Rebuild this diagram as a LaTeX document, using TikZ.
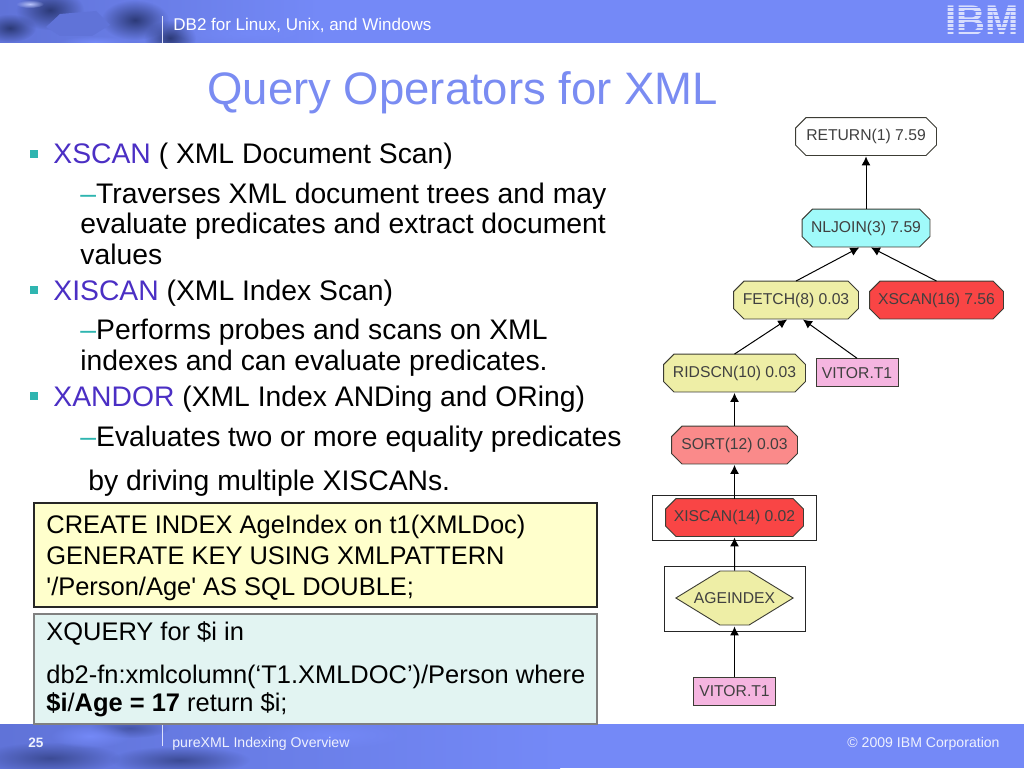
\documentclass[tikz,border=0pt]{standalone}
\usepackage{fontspec}
\setmainfont{Liberation Sans}
\newfontfamily\plainfont{Liberation Sans}
\usetikzlibrary{arrows.meta,shapes.symbols,fadings}
\definecolor{barblue}{HTML}{7489F7}
\definecolor{barmid}{HTML}{6073D8}
\definecolor{bardark}{HTML}{2C3A78}
\definecolor{titleblue}{HTML}{7A8CF2}
\definecolor{keyblue}{HTML}{4B2FC4}
\definecolor{tealmark}{HTML}{2FB5B0}
\definecolor{boxyellow}{HTML}{FFFFCC}
\definecolor{boxmint}{HTML}{E2F4F2}
\definecolor{opyellow}{HTML}{EEEEA6}
\definecolor{opred}{HTML}{F94545}
\definecolor{oppink}{HTML}{FA8A8A}
\definecolor{opcyan}{HTML}{A0FAFA}
\definecolor{tblpink}{HTML}{F5B5E0}
\definecolor{oppline}{HTML}{3C3C34}
\tikzfading[name=softspot,inner color=transparent!0,outer color=transparent!100]
% rectangle with cut corners
\makeatletter
\pgfdeclareshape{opbox}{
  \inheritsavedanchors[from=rectangle]
  \inheritanchorborder[from=rectangle]
  \inheritanchor[from=rectangle]{center}
  \inheritanchor[from=rectangle]{north}
  \inheritanchor[from=rectangle]{south}
  \inheritanchor[from=rectangle]{east}
  \inheritanchor[from=rectangle]{west}
  \backgroundpath{
    \southwest \pgf@xa=\pgf@x \pgf@ya=\pgf@y
    \northeast \pgf@xb=\pgf@x \pgf@yb=\pgf@y
    \pgfpathmoveto{\pgfpoint{\pgf@xa+10.5pt}{\pgf@ya}}
    \pgfpathlineto{\pgfpoint{\pgf@xb-10.5pt}{\pgf@ya}}
    \pgfpathlineto{\pgfpoint{\pgf@xb}{\pgf@ya+10.5pt}}
    \pgfpathlineto{\pgfpoint{\pgf@xb}{\pgf@yb-10.5pt}}
    \pgfpathlineto{\pgfpoint{\pgf@xb-10.5pt}{\pgf@yb}}
    \pgfpathlineto{\pgfpoint{\pgf@xa+10.5pt}{\pgf@yb}}
    \pgfpathlineto{\pgfpoint{\pgf@xa}{\pgf@yb-10.5pt}}
    \pgfpathlineto{\pgfpoint{\pgf@xa}{\pgf@ya+10.5pt}}
    \pgfpathclose
  }
}
\makeatother
\begin{document}
\begin{tikzpicture}[x=1pt,y=-1pt,->,>={Latex[length=9pt,width=9pt]},shorten >=1pt,thick,
    op node/.style={opbox,draw=oppline,line width=.9pt,inner sep=0pt,minimum height=37pt,
      text height=13pt,text depth=4.6pt,text=black!75,font=\fontsize{15.7}{17}\selectfont},
    tbl node/.style={rectangle,draw=oppline,line width=.9pt,fill=tblpink,inner sep=0pt,text=black!75,
      minimum width=82pt,minimum height=28pt,font=\fontsize{15.7}{17}\selectfont},
    frame node/.style={rectangle,draw=black!85,line width=.9pt,fill=white,inner sep=0pt},
    body text/.style={anchor=base west,inner sep=0pt,font=\fontsize{28.3}{32}\selectfont},
    box text/.style={anchor=base west,inner sep=0pt,font=\fontsize{25.45}{28}\selectfont},
    bar text/.style={anchor=base west,inner sep=0pt,text=white,font=\fontsize{17}{20}\selectfont},
    foot text/.style={anchor=base west,inner sep=0pt,text=white!88!barblue,font=\fontsize{14.1}{16}\selectfont},
    mark node/.style={rectangle,fill=tealmark,inner sep=0pt,minimum size=8pt},
    soft spot/.style={path fading=softspot,fill=#1}]
  \useasboundingbox (0,0) rectangle (1024,768);

  % header and footer bars
  \begin{scope}[-]
    \fill[barblue] (0,0) rectangle (1024,43);
    \shade[left color=barmid,right color=barblue] (0,0) rectangle (320,43);
    \begin{scope}
      \clip (0,0) rectangle (320,43);
      \path[soft spot=bardark] (50,10) ellipse (34 and 20);
      \path[soft spot=bardark] (135,20) ellipse (34 and 20);
      \path[soft spot=bardark] (170,38) ellipse (26 and 18);
      \path[soft spot=bardark] (10,28) ellipse (26 and 14);
      \fill[barmid] (46,27) -- (60,14) -- (96,11) -- (110,25) -- (92,36) -- (60,36) -- cycle;
      \path[soft spot=barblue!50!white] (30,4) ellipse (14 and 4);
      \path[soft spot=barblue] (95,42) ellipse (36 and 6);
      \path[soft spot=barblue] (255,33) ellipse (80 and 12);
    \end{scope}
    \fill[barblue] (0,724) rectangle (1024,768);
    \shade[left color=barmid,right color=barblue] (0,724) rectangle (560,768);
    \begin{scope}
      \clip (0,724) rectangle (560,768);
      \path[soft spot=bardark!70!barmid] (50,758) ellipse (70 and 16);
      \path[soft spot=bardark!70!barmid] (180,760) ellipse (70 and 14);
      \path[soft spot=bardark!50!barmid] (130,728) ellipse (40 and 10);
      \path[soft spot=barblue] (90,736) ellipse (40 and 12);
      \path[soft spot=barblue] (330,735) ellipse (80 and 14);
    \end{scope}
    \draw[white!75!barblue,line width=1pt,shorten >=0pt] (162,16) -- (162,43);
    \draw[white!75!barblue,line width=1pt,shorten >=0pt] (162,724) -- (162,746);
  \end{scope}
  \node[bar text] (barleft) at (173,31) {DB2 for Linux, Unix, and Windows};
  \node[foot text] (footname) at (172,747.5) {pureXML Indexing Overview};
  \node[foot text,font=\fontsize{13.6}{16}\selectfont\bfseries] (footpage) at (28,747.5) {25};
  \node[foot text,anchor=base east] (footcopy) at (1000,747) {© 2009 IBM Corporation};

  % logo
  \node[anchor=center,inner sep=0pt,text=white!72!barblue,xscale=.93,
    font=\fontsize{43}{43}\selectfont\bfseries] (logo) at (982.5,20.5) {IBM};
  \begin{scope}[-,shorten >=0pt]
    \foreach \ya in {7.7,11.6,15.5,19.4,23.3,27.2,31.1,35}
      \draw[barblue,line width=1.2pt] (940,\ya) -- (1023,\ya);
  \end{scope}

  % title and text
  \node[anchor=base west,inner sep=0pt,text=titleblue,font=\fontsize{45.5}{50}\selectfont] (title) at (207,104) {Query Operators for XML};
  \node[mark node] (mark1) at (34,154) {};
  \node[mark node] (mark2) at (34,290) {};
  \node[mark node] (mark3) at (34,396) {};
  \node[body text] (xscan) at (53,163.5) {\textcolor{keyblue}{XSCAN} ( XML Document Scan)};
  \node[body text] (xscan1) at (80,203) {\textcolor{tealmark}{–}Traverses XML document trees and may};
  \node[body text] (xscan2) at (80,233) {evaluate predicates and extract document};
  \node[body text] (xscan3) at (80,264) {values};
  \node[body text] (xiscan) at (53,300) {\textcolor{keyblue}{XISCAN} (XML Index Scan)};
  \node[body text] (xiscan1) at (80,339.5) {\textcolor{tealmark}{–}Performs probes and scans on XML};
  \node[body text] (xiscan2) at (80,370) {indexes and can evaluate predicates.};
  \node[body text] (xandor) at (53,406) {\textcolor{keyblue}{XANDOR} (XML Index ANDing and ORing)};
  \node[body text] (xandor1) at (80,446) {\textcolor{tealmark}{–}Evaluates two or more equality predicates};
  \node[body text] (xandor2) at (88,490.5) {by driving multiple XISCANs.};

  % boxes
  \node[rectangle,draw=black!85,line width=1.1pt,fill=boxyellow,minimum width=563pt,minimum height=104pt,inner sep=0pt] (createbox) at (315.5,555) {};
  \node[rectangle,draw=black!50,line width=1.1pt,fill=boxmint,minimum width=563pt,minimum height=110pt,inner sep=0pt] (querybox) at (315.5,669) {};
  \node[box text] (create1) at (46,533.5) {CREATE INDEX AgeIndex on t1(XMLDoc)};
  \node[box text] (create2) at (46,564) {GENERATE KEY USING XMLPATTERN};
  \node[box text] (create3) at (46,595) {{\plainfont '}/Person/Age{\plainfont '} AS SQL DOUBLE;};
  \node[box text] (query1) at (46,640.5) {XQUERY for \$i in};
  \node[box text] (query2) at (46,683.5) {db2-fn:xmlcolumn(‘T1.XMLDOC’)/Person where};
  \node[box text] (query3) at (46,711.5) {\textbf{\$i}/\textbf{Age = 17} return \$i;};

  % plan graph
  \node[frame node,minimum width=164pt,minimum height=45pt] (xiscanframe) at (734.5,517.5) {};
  \node[frame node,minimum width=141pt,minimum height=65pt] (ageframe) at (734.5,598.5) {};
  \node[op node,fill=white,minimum width=140pt] (return) at (866,136.5) {RETURN(1) 7.59};
  \node[op node,fill=opcyan,minimum width=127pt] (nljoin) at (866,228) {NLJOIN(3) 7.59};
  \node[op node,fill=opyellow,minimum width=124pt] (fetch) at (796,300) {FETCH(8) 0.03};
  \node[op node,fill=opred,minimum width=133pt] (xscanop) at (936.5,300) {XSCAN(16) 7.56};
  \node[op node,fill=opyellow,minimum width=141pt] (ridscn) at (734.5,373) {RIDSCN(10) 0.03};
  \node[tbl node] (vitora) at (857,372.7) {VITOR.T1};
  \node[op node,fill=oppink,minimum width=125pt] (sort) at (734.5,445) {SORT(12) 0.03};
  \node[op node,fill=opred,minimum width=137pt] (xiscanop) at (734.5,517.5) {XISCAN(14) 0.02};
  \node[signal,signal to=east and west,signal pointer angle=63,draw=oppline,line width=.9pt,fill=opyellow,
    inner xsep=-26pt,inner ysep=0pt,minimum height=54pt,text=black!75,font=\fontsize{15.7}{17}\selectfont] (ageindex) at (734.5,598) {AGEINDEX};
  \node[tbl node] (vitorb) at (734.5,691) {VITOR.T1};
  \path[line width=1pt]
  (nljoin) edge (return)
  (fetch.north) edge (nljoin.-107)
  (xscanop.north) edge (nljoin.-78)
  (ridscn.north) edge (fetch.-113)
  (vitora.north) edge (fetch.-72)
  (sort) edge (ridscn)
  (xiscanop) edge (sort)
  (ageindex) edge (xiscanop)
  (vitorb) edge (ageindex);
\end{tikzpicture}
\end{document}
